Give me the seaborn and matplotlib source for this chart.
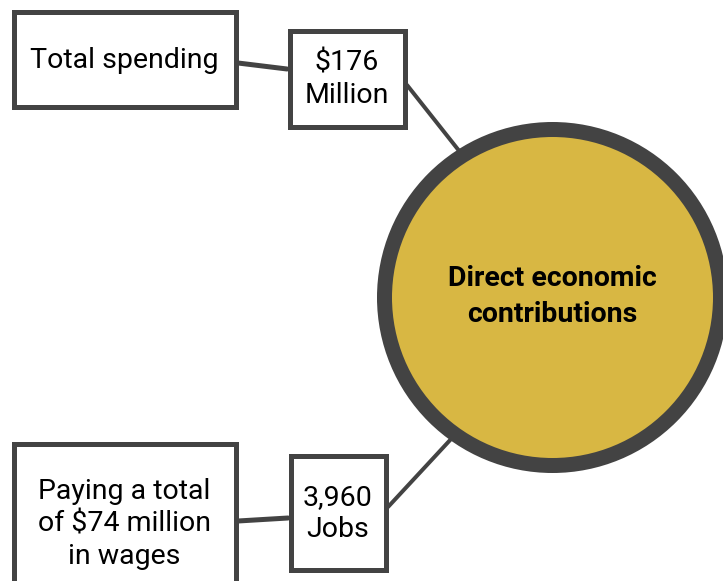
import matplotlib.pyplot as plt
import seaborn as sns
import pandas as pd
from matplotlib.patches import Rectangle, Circle

sns.set_style("white")
plt.rcParams['font.family'] = ['Roboto', 'DejaVu Sans']

# content
center_label = "Direct economic\ncontributions"
desc_labels = ["Total spending", "Paying a total\nof $74 million\nin wages"]
value_labels = ["$176\nMillion", "3,960\nJobs"]

dark = "#434343"
gold = "#D8B743"
px = 72 / 100  # points per pixel at dpi 100

# layout (pixels, y down)
desc_boxes = [(11, 9, 227, 100), (11, 441, 227, 160)]
value_boxes = [(287, 28, 120, 101), (288, 453, 100, 119)]
circ_x, circ_y, circ_r = 552.5, 297.5, 168

fig = plt.figure(figsize=(7.23, 5.81), dpi=100)
ax = fig.add_axes([0, 0, 1, 1])
ax.set_xlim(0, 723)
ax.set_ylim(581, 0)
ax.axis("off")

# connectors
links = pd.DataFrame({
    "x": [238, 287, 407, 460, 238, 288, 388, 452],
    "y": [63, 69, 85, 152, 521, 518, 507, 438],
    "seg": ["a", "a", "b", "b", "c", "c", "d", "d"],
})
for seg, w in zip(["a", "b", "c", "d"], [5, 4, 5, 4]):
    sns.lineplot(data=links[links.seg == seg], x="x", y="y", ax=ax,
                 color=dark, linewidth=w * px, sort=False, zorder=1,
                 estimator=None)

# circle
ax.add_patch(Circle((circ_x, circ_y), circ_r, facecolor=gold,
                    edgecolor=dark, linewidth=15 * px, zorder=3))
ax.text(circ_x, circ_y - 1, center_label, ha="center", va="center",
        fontsize=20.5, fontweight="bold", color="black", zorder=4,
        linespacing=1.45)

# boxes
for (x, y, w, h), lab, txt_y in zip(desc_boxes, desc_labels, [60, 524]):
    ax.add_patch(Rectangle((x + 2.5, y + 2.5), w - 5, h - 5, facecolor="white",
                           edgecolor=dark, linewidth=5 * px, zorder=2))
    ax.text(x + w / 2, txt_y, lab, ha="center", va="center", fontsize=20.5,
            color="black", zorder=4, linespacing=1.25)

for (x, y, w, h), lab in zip(value_boxes, value_labels):
    ax.add_patch(Rectangle((x + 2.5, y + 2.5), w - 5, h - 5, facecolor="white",
                           edgecolor=dark, linewidth=5 * px, zorder=2))
    ax.text(x + w / 2, y + h / 2 + 1, lab, ha="center", va="center", fontsize=20.5,
            color="black", zorder=4, linespacing=1.28)

fig.savefig("out.png", dpi=100)
